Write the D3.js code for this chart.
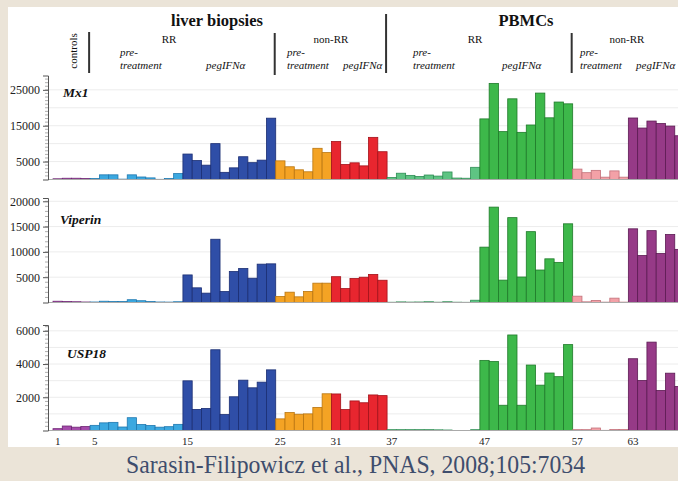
<!DOCTYPE html>
<html>
<head>
<meta charset="utf-8">
<script src="https://cdn.jsdelivr.net/npm/d3@7/dist/d3.min.js"></script>
<style>
  body { margin: 0; background: #ebe4d8; }
  svg { display: block; }
  .serif { font-family: 'Liberation Serif', 'Times New Roman', serif; }
</style>
</head>
<body>
<script>
// sample numbers along the x axis
const samples = d3.range(1, 69)

// groups: first sample of each, colours
const groupStarts = [1, 5, 15, 25, 31, 37, 47, 57, 63]
const groupFills = ['#a54aab', '#3ba8e0', '#2f4ea7', '#f4a324', '#e8262f', '#5ec483', '#3db84a', '#f3a1a7', '#963a87']
const groupStrokes = ['#6e2573', '#1e78b0', '#1b2e73', '#b97510', '#a3121a', '#2f8d55', '#1f7a2a', '#c2717a', '#5c1b53']

const xTickLabels = [1, 5, 15, 25, 31, 37, 47, 57, 63]

const mx1 = [200, 350, 350, 300,
  300, 1300, 1300, 100, 1300, 700, 450, 50, 300, 1650,
  7100, 5300, 4000, 10000, 2000, 3250, 6350, 4700, 5400, 17100,
  5200, 3550, 2700, 2150, 8700, 7500,
  10600, 4200, 4650, 3800, 11750, 7750,
  550, 1750, 1150, 850, 1250, 950, 2100, 400, 350, 3400,
  16900, 26800, 13350, 22500, 13150, 15200, 24100, 17200, 21600, 21100,
  2900, 1900, 2550, 650, 2400, 650,
  17150, 14350, 16300, 15600, 14900, 12200]

const viperin = [250, 200, 150, 100,
  100, 250, 200, 200, 550, 350, 200, 100, 80, 150,
  5450, 2900, 1850, 12500, 2170, 6130, 6720, 4800, 7580, 7640,
  1190, 2040, 1120, 2170, 3820, 3820,
  5100, 2750, 4750, 5000, 5550, 4400,
  50, 120, 80, 100, 150, 60, 150, 60, 40, 450,
  10940, 18850, 4420, 16770, 5040, 14000, 6420, 8630, 7930, 15550,
  1250, 130, 400, 70, 860, 70,
  14560, 9290, 14200, 9690, 13440, 10500]

const usp18 = [110, 270, 200, 240,
  310, 460, 490, 210, 770, 360, 300, 200, 230, 370,
  2990, 1270, 1330, 4860, 960, 2030, 3030, 2570, 2910, 3650,
  700, 1080, 980, 1000, 1390, 2210,
  2200, 1260, 1780, 1670, 2140, 2100,
  50, 50, 50, 50, 50, 40, 30, 0, 0, 50,
  4220, 4150, 1520, 5750, 1520, 3940, 2730, 3460, 3240, 5170,
  50, 50, 150, 10, 60, 60,
  4320, 3010, 5320, 2410, 3450, 2650]

const mx1Ticks = [5000, 15000, 25000]
const viperinTicks = [5000, 10000, 15000, 20000]
const usp18Ticks = [2000, 4000, 6000]

const width = 678
const height = 481

const svg = d3.select('body')
  .append('svg')
  .attr('width', width)
  .attr('height', height)

// white slide panel
svg.append('rect')
  .attr('x', 8)
  .attr('y', 7)
  .attr('width', width - 8)
  .attr('height', 440)
  .style('fill', '#ffffff')

const x = d3.scaleBand()
  .domain(samples)
  .range([53, 53 + samples.length * 9.28])
  .padding(0)

const groupOf = s => d3.bisectRight(groupStarts, s) - 1

const panels = [
  {gene: 'Mx1', values: mx1, max: 29000, y0: 179.5, y1: 75.5, ticks: mx1Ticks, grid: 5000, minor: 1000, labelX: 63, labelY: 97},
  {gene: 'Viperin', values: viperin, max: 20650, y0: 302.5, y1: 198, ticks: viperinTicks, grid: 5000, minor: 1000, labelX: 60, labelY: 224},
  {gene: 'USP18', values: usp18, max: 6350, y0: 430.5, y1: 325, ticks: usp18Ticks, grid: 1000, minor: 250, labelX: 67, labelY: 358}
]

const axisX = 48

panels.forEach(p => {
  const y = d3.scaleLinear().domain([0, p.max]).range([p.y0, p.y1])
  const g = svg.append('g')

  // faint grid
  g.append('g').selectAll('line')
    .data(d3.range(p.grid, p.max, p.grid))
    .enter()
    .append('line')
    .attr('x1', axisX)
    .attr('x2', width)
    .attr('y1', d => y(d))
    .attr('y2', d => y(d))
    .style('stroke', '#ececec')
    .style('stroke-width', 1)

  // bars
  g.append('g').selectAll('rect')
    .data(p.values)
    .enter()
    .append('rect')
    .attr('x', (d, i) => x(samples[i]))
    .attr('y', d => y(d))
    .attr('width', x.bandwidth())
    .attr('height', d => p.y0 - y(d))
    .style('fill', (d, i) => groupFills[groupOf(samples[i])])
    .style('stroke', (d, i) => groupStrokes[groupOf(samples[i])])
    .style('stroke-width', 0.8)

  // baseline
  g.append('line')
    .attr('x1', axisX)
    .attr('x2', width)
    .attr('y1', p.y0)
    .attr('y2', p.y0)
    .style('stroke', '#aaaaaa')
    .style('stroke-width', 1)

  // y axis with dense minor ticks
  const axis = g.append('g')
    .attr('transform', `translate(${axisX},0)`)
    .call(d3.axisLeft(y).tickValues(p.ticks).tickSize(5).tickFormat(d3.format('d')))
  axis.select('.domain').style('stroke', '#555')
  axis.selectAll('.tick line').style('stroke', '#555')
  axis.selectAll('text')
    .attr('class', 'serif')
    .style('font-size', '12px')
    .style('fill', '#222')
    .attr('x', -8)

  g.append('g').selectAll('line')
    .data(d3.range(p.minor, p.max, p.minor))
    .enter()
    .append('line')
    .attr('x1', axisX - 3)
    .attr('x2', axisX)
    .attr('y1', d => y(d))
    .attr('y2', d => y(d))
    .style('stroke', '#777')
    .style('stroke-width', 0.6)

  g.append('text')
    .attr('class', 'serif')
    .attr('x', p.labelX)
    .attr('y', p.labelY)
    .style('font-size', '13.5px')
    .style('font-weight', 'bold')
    .style('font-style', 'italic')
    .style('fill', '#111')
    .text(p.gene)
})

// x tick labels under the last panel
svg.append('g').selectAll('text')
  .data(xTickLabels)
  .enter()
  .append('text')
  .attr('class', 'serif')
  .attr('x', d => x(d) + x.bandwidth() / 2)
  .attr('y', 445)
  .attr('text-anchor', 'middle')
  .style('font-size', '11px')
  .style('fill', '#222')
  .text(d => d)

// header
const header = svg.append('g').attr('class', 'serif').style('fill', '#111')

header.append('text')
  .attr('x', 217).attr('y', 26)
  .attr('text-anchor', 'middle')
  .style('font-size', '16.5px').style('font-weight', 'bold')
  .text('liver biopsies')

header.append('text')
  .attr('x', 526).attr('y', 26)
  .attr('text-anchor', 'middle')
  .style('font-size', '16.5px').style('font-weight', 'bold')
  .text('PBMCs')

header.append('text')
  .attr('transform', 'translate(77,51) rotate(-90)')
  .attr('text-anchor', 'middle')
  .style('font-size', '11px')
  .text('controls')

const subHeads = [
  {text: 'RR', x: 169},
  {text: 'non-RR', x: 331},
  {text: 'RR', x: 475},
  {text: 'non-RR', x: 627}
]
header.selectAll('.sub')
  .data(subHeads)
  .enter()
  .append('text')
  .attr('x', d => d.x)
  .attr('y', 43)
  .attr('text-anchor', 'middle')
  .style('font-size', '11px')
  .text(d => d.text)

const preX = [120, 287, 413, 580]
const pegX = [206, 343, 502, 636]
preX.forEach(px => {
  header.append('text').attr('x', px).attr('y', 56)
    .style('font-size', '11px').style('font-style', 'italic').text('pre-')
  header.append('text').attr('x', px).attr('y', 69)
    .style('font-size', '11px').style('font-style', 'italic').text('treatment')
})
pegX.forEach(px => {
  header.append('text').attr('x', px).attr('y', 69)
    .style('font-size', '11px').style('font-style', 'italic').text('pegIFNα')
})

// separators between groups
const separators = [
  {s: 5, top: 32, bottom: 73},
  {s: 25, top: 33, bottom: 75},
  {s: 37, top: 14, bottom: 73},
  {s: 57, top: 33, bottom: 73}
]
svg.append('g').selectAll('line')
  .data(separators)
  .enter()
  .append('line')
  .attr('x1', d => x(d.s) - 1)
  .attr('x2', d => x(d.s) - 1)
  .attr('y1', d => d.top)
  .attr('y2', d => d.bottom)
  .style('stroke', '#333')
  .style('stroke-width', 2)

// citation, squeezed to the reference width
svg.append('text')
  .attr('class', 'serif')
  .attr('x', 126)
  .attr('y', 473)
  .attr('textLength', 459)
  .attr('lengthAdjust', 'spacingAndGlyphs')
  .style('font-size', '26px')
  .style('fill', '#3e4d6d')
  .text('Sarasin-Filipowicz et al., PNAS, 2008;105:7034')
</script>
</body>
</html>
